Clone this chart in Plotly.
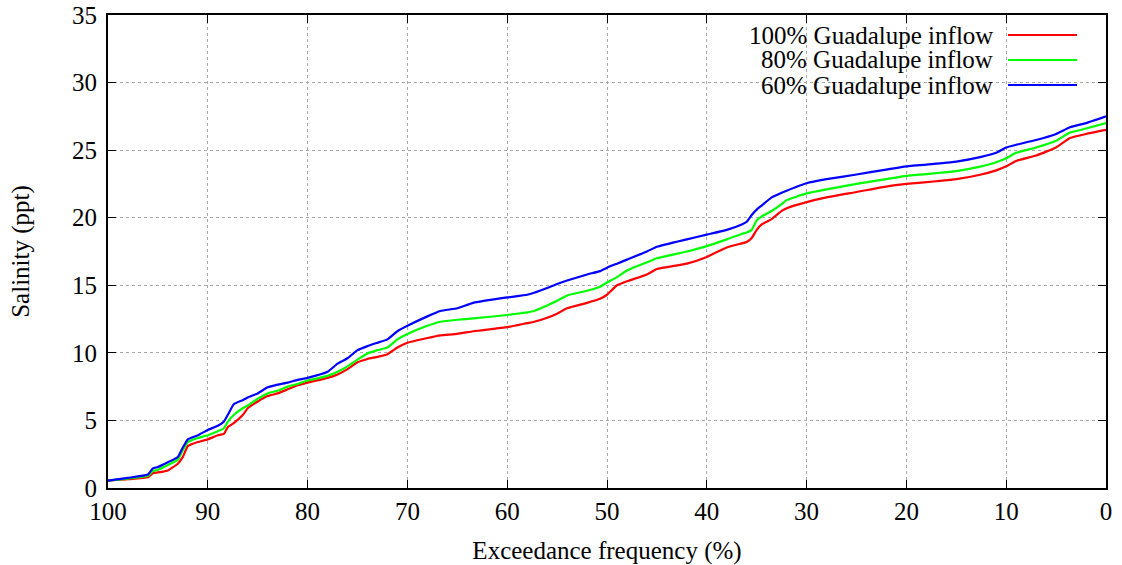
import plotly.graph_objects as go

exceedance = [100, 98, 96, 95.5, 95, 94, 93, 92.5, 92, 91, 90, 89, 88.4, 88, 87.4, 86.5, 86, 85, 84, 83,
              82, 81, 80, 78, 77, 76, 75, 74, 73, 72, 71, 70, 68, 66.7, 65, 63.4, 60, 58, 57.3, 56,
              55, 54, 52, 50.7, 50, 49, 48, 46, 45, 42, 40, 38, 36.5, 36, 35.5, 35, 34.5, 33.5, 32.5, 32,
              30, 28, 25, 22.5, 20, 17, 15, 12.5, 11, 10, 9, 7, 5, 3.6, 2, 0]

sal_100 = [0.55, 0.65, 0.8, 1.1, 1.15, 1.3, 1.8, 2.3, 3.1, 3.4, 3.6, 3.9, 4.0, 4.5, 4.8, 5.4, 5.9, 6.4, 6.8, 7.0,
           7.3, 7.6, 7.8, 8.15, 8.4, 8.8, 9.3, 9.55, 9.7, 9.9, 10.4, 10.75, 11.1, 11.3, 11.4, 11.6, 11.9, 12.2, 12.3, 12.6,
           12.9, 13.3, 13.7, 14.0, 14.3, 15.0, 15.3, 15.8, 16.2, 16.6, 17.1, 17.8, 18.1, 18.2, 18.5, 19.1, 19.5, 19.9, 20.5, 20.7,
           21.15, 21.5, 21.9, 22.25, 22.5, 22.7, 22.85, 23.2, 23.5, 23.8, 24.2, 24.6, 25.2, 25.9, 26.2, 26.5]

sal_80 = [0.55, 0.7, 0.9, 1.25, 1.35, 1.7, 2.1, 2.8, 3.4, 3.7, 3.9, 4.2, 4.4, 4.9, 5.4, 5.9, 6.1, 6.6, 7.0, 7.2,
          7.5, 7.7, 7.95, 8.3, 8.6, 9.0, 9.5, 9.95, 10.2, 10.4, 11.0, 11.4, 12.0, 12.3, 12.45, 12.55, 12.8, 13.0, 13.1, 13.5,
          13.85, 14.25, 14.6, 14.9, 15.2, 15.6, 16.1, 16.7, 17.0, 17.5, 17.9, 18.4, 18.8, 18.9, 19.1, 19.8, 20.1, 20.5, 21.0, 21.3,
          21.8, 22.1, 22.5, 22.8, 23.1, 23.3, 23.45, 23.8, 24.1, 24.4, 24.8, 25.2, 25.7, 26.3, 26.6, 27.0]

sal_60 = [0.55, 0.75, 1.0, 1.45, 1.55, 1.9, 2.3, 3.0, 3.6, 3.9, 4.3, 4.6, 4.9, 5.4, 6.2, 6.5, 6.7, 7.0, 7.45, 7.65,
          7.8, 8.0, 8.15, 8.6, 9.2, 9.6, 10.2, 10.5, 10.75, 11.0, 11.6, 12.0, 12.7, 13.1, 13.3, 13.7, 14.1, 14.3, 14.45, 14.8,
          15.1, 15.35, 15.8, 16.05, 16.3, 16.6, 16.9, 17.5, 17.85, 18.4, 18.75, 19.1, 19.5, 19.7, 20.2, 20.6, 20.9, 21.5, 21.85, 22.0,
          22.55, 22.85, 23.2, 23.5, 23.8, 24.0, 24.15, 24.5, 24.8, 25.2, 25.4, 25.75, 26.2, 26.7, 27.0, 27.5]

series_names = ["100% Guadalupe inflow", "80% Guadalupe inflow", "60% Guadalupe inflow"]
series_values = [sal_100, sal_80, sal_60]
series_colors = ["#ff0000", "#00ff00", "#0000ff"]

x_ticks = [100, 90, 80, 70, 60, 50, 40, 30, 20, 10, 0]
y_ticks = [0, 5, 10, 15, 20, 25, 30, 35]

FONT = "Liberation Serif"
FS = 25

fig = go.Figure()
for name, vals, col in zip(series_names, series_values, series_colors):
    fig.add_trace(go.Scatter(x=exceedance, y=vals, mode="lines", name=name,
                             line=dict(color=col, width=2.2, shape="spline", smoothing=0.4),
                             showlegend=False))

W, H = 1122, 565
ml, mr, mt, mb = 108, 16, 15, 77
pw, ph = W - ml - mr, H - mt - mb

def px_x(p):
    return (p - ml) / pw

def px_y(p):
    return 1 - (p - mt) / ph

# legend background box (white, hides grid)
fig.add_shape(type="rect", xref="paper", yref="paper",
              x0=px_x(676), x1=px_x(1098), y0=px_y(97), y1=px_y(17),
              fillcolor="white", line=dict(width=0), layer="between")

legend_y = [35, 60, 85]
for name, col, yy in zip(series_names, series_colors, legend_y):
    fig.add_annotation(xref="paper", yref="paper", x=px_x(995), y=px_y(yy),
                       text=name, showarrow=False, xanchor="right", yanchor="middle",
                       font=dict(family=FONT, size=FS, color="black"))
    fig.add_shape(type="line", xref="paper", yref="paper",
                  x0=px_x(1008), x1=px_x(1077), y0=px_y(yy), y1=px_y(yy),
                  line=dict(color=col, width=2), layer="above")

axis_common = dict(showline=True, linecolor="black", linewidth=2, mirror="allticks",
                   ticks="inside", ticklen=8, tickcolor="black", tickwidth=1.2,
                   showgrid=True, gridcolor="#a8a8a8", griddash="dot", gridwidth=1,
                   zeroline=False, automargin=False, ticklabeloverflow="allow",
                   tickfont=dict(family=FONT, size=FS, color="black"))

fig.update_xaxes(range=[100, 0], tickvals=x_ticks, ticktext=[str(v) for v in x_ticks],
                 title=dict(text="Exceedance frequency (%)", font=dict(family=FONT, size=FS, color="black"),
                            standoff=18),
                 **axis_common)
fig.update_yaxes(range=[0, 35], tickvals=y_ticks, ticktext=[str(v) for v in y_ticks],
                 ticklabelstandoff=4,
                 title=dict(text="Salinity (ppt)", font=dict(family=FONT, size=FS, color="black"),
                            standoff=35),
                 **axis_common)

fig.update_layout(width=W, height=H, margin=dict(l=ml, r=mr, t=mt, b=mb),
                  plot_bgcolor="white", paper_bgcolor="white",
                  font=dict(family=FONT, color="black"))

fig.write_html("out.html", config={"displayModeBar": False},
               post_script="document.body.style.margin='0px';document.body.style.overflow='hidden';")
